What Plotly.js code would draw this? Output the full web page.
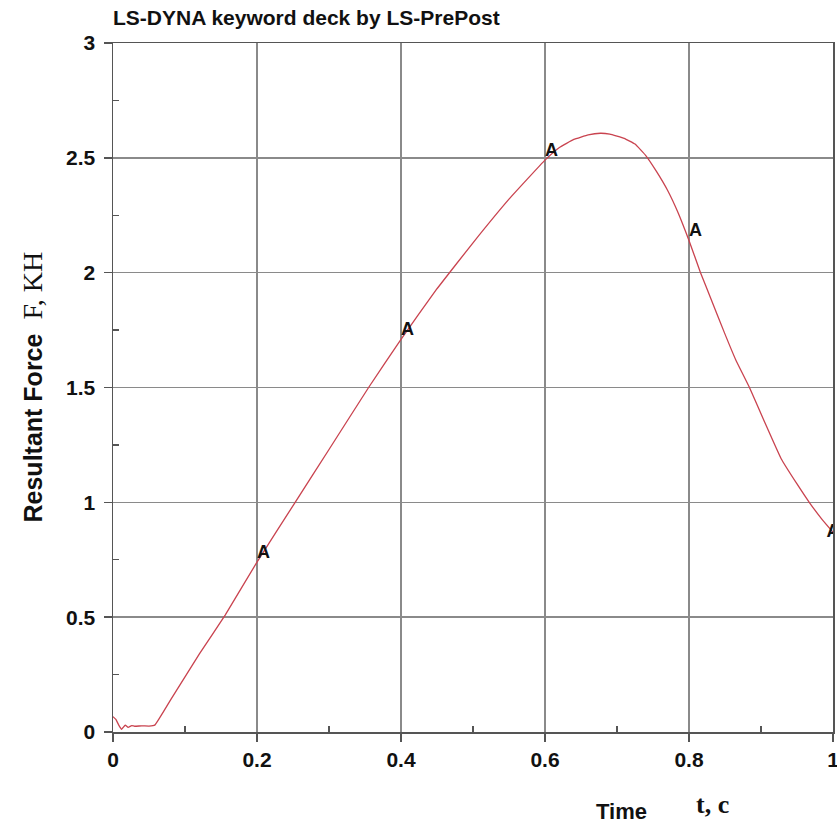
<!DOCTYPE html>
<html>
<head>
<meta charset="utf-8">
<script src="https://cdn.plot.ly/plotly-3.0.1.min.js"></script>
<style>html,body{margin:0;padding:0;background:#fff;}#chart{width:837px;height:825px;}</style>
</head>
<body>
<div id="chart"></div>
<script>
// Curve: time t (s) vs resultant force F (kN)
const timeValues = [0, 0.004, 0.008, 0.012, 0.017, 0.021, 0.026, 0.03, 0.04, 0.05, 0.058, 0.08, 0.1, 0.12, 0.156, 0.2, 0.253, 0.3, 0.355, 0.4, 0.45, 0.5, 0.55, 0.6, 0.62, 0.64, 0.66, 0.677, 0.69, 0.71, 0.725, 0.74, 0.755, 0.77, 0.785, 0.8, 0.816, 0.83, 0.849, 0.865, 0.884, 0.905, 0.928, 0.95, 0.967, 0.985, 1.0];
const forceValues = [0.067, 0.055, 0.03, 0.012, 0.03, 0.02, 0.028, 0.025, 0.027, 0.026, 0.03, 0.14, 0.24, 0.34, 0.51, 0.74, 1.0, 1.23, 1.5, 1.71, 1.93, 2.13, 2.32, 2.49, 2.545, 2.58, 2.6, 2.607, 2.603, 2.585, 2.56, 2.51, 2.44, 2.36, 2.26, 2.14, 2.0, 1.89, 1.74, 1.62, 1.5, 1.35, 1.19, 1.08, 1.0, 0.925, 0.87];
// Curve label markers "A"
const labelTimes = [0.2, 0.4, 0.6, 0.8, 1.0];
const labelForces = [0.74, 1.71, 2.49, 2.14, 0.87];
const labelTexts = ['A', 'A', 'A', 'A', 'A'];
const labelPositions = ['top right', 'top right', 'top right', 'top right', 'middle center'];
// Axis tick labels
const xTickVals = [0, 0.2, 0.4, 0.6, 0.8, 1];
const xTickText = ['0', '0.2', '0.4', '0.6', '0.8', '1'];
const yTickVals = [0, 0.5, 1, 1.5, 2, 2.5, 3];
const yTickText = ['0', '0.5', '1', '1.5', '2', '2.5', '3'];

const chartTitle = 'LS-DYNA keyword deck by LS-PrePost';
const yTitleMain = 'Resultant Force';
const yTitleUnit = 'F, KH';
const xTitleMain = 'Time';
const xTitleUnit = 't, c';

const sans = 'Liberation Sans, Arial, sans-serif';
const serif = 'Liberation Serif, Times New Roman, serif';

const traces = [
  {
    x: timeValues, y: forceValues, type: 'scatter', mode: 'lines',
    line: {color: '#c9434f', width: 1.3, shape: 'spline', smoothing: 0.3},
    hoverinfo: 'skip', showlegend: false
  },
  {
    x: labelTimes, y: labelForces, type: 'scatter', mode: 'text',
    text: labelTexts, textposition: labelPositions,
    textfont: {family: sans, size: 18, color: '#111', weight: 'bold'},
    cliponaxis: true, hoverinfo: 'skip', showlegend: false
  }
];

const axisCommon = {
  showgrid: true, gridcolor: '#8a8a8a', gridwidth: 1.4,
  showline: true, linecolor: '#555', linewidth: 1.5, mirror: true,
  ticks: 'outside', ticklen: 8, tickwidth: 1.4, tickcolor: '#555',
  zeroline: false, fixedrange: true, tickmode: 'array',
  ticklabeloverflow: 'allow',
  tickfont: {family: sans, size: 21, color: '#111', weight: 'bold'}
};

const layout = {
  width: 837, height: 825,
  paper_bgcolor: '#fff', plot_bgcolor: '#fff',
  margin: {l: 113, r: 4, t: 43, b: 93},
  title: {
    text: '<b>' + chartTitle + '</b>',
    font: {family: sans, size: 21, color: '#111'},
    xref: 'paper', x: 0, xanchor: 'left',
    yref: 'container', y: 1 - 18 / 825, yanchor: 'middle'
  },
  xaxis: Object.assign({}, axisCommon, {
    range: [0, 1], tickvals: xTickVals, ticktext: xTickText,
    minor: {tickvals: [0.1, 0.3, 0.5, 0.7, 0.9], ticks: 'inside', ticklen: 6, tickwidth: 1.2, tickcolor: '#555', showgrid: false}
  }),
  yaxis: Object.assign({}, axisCommon, {
    range: [0, 3], tickvals: yTickVals, ticktext: yTickText, ticklabelstandoff: 4,
    minor: {tickvals: [0.25, 0.75, 1.25, 1.75, 2.25, 2.75], ticks: 'inside', ticklen: 6, tickwidth: 1.2, tickcolor: '#555', showgrid: false}
  }),
  annotations: [
    {
      xref: 'paper', yref: 'paper', x: (32 - 113) / 720, y: 0.5,
      xanchor: 'center', yanchor: 'middle', textangle: -90, showarrow: false,
      text: '<span style="font-family:Liberation Sans, Arial, sans-serif;font-weight:bold;font-size:25px">' + yTitleMain + '</span>  <span style="font-size:28px">' + yTitleUnit + '</span>',
      font: {family: serif, size: 28, color: '#111'}
    },
    {
      xref: 'paper', yref: 'paper', x: (621 - 113) / 720, y: (732 - 812) / 689,
      xanchor: 'center', yanchor: 'middle', showarrow: false,
      text: '<b>' + xTitleMain + '</b>',
      font: {family: sans, size: 22, color: '#111'}
    },
    {
      xref: 'paper', yref: 'paper', x: (712 - 113) / 720, y: (732 - 804) / 689,
      xanchor: 'center', yanchor: 'middle', showarrow: false,
      text: '<b>' + xTitleUnit + '</b>',
      font: {family: serif, size: 26, color: '#111'}
    }
  ]
};

Plotly.newPlot('chart', traces, layout, {displayModeBar: false, staticPlot: true});
</script>
</body>
</html>
